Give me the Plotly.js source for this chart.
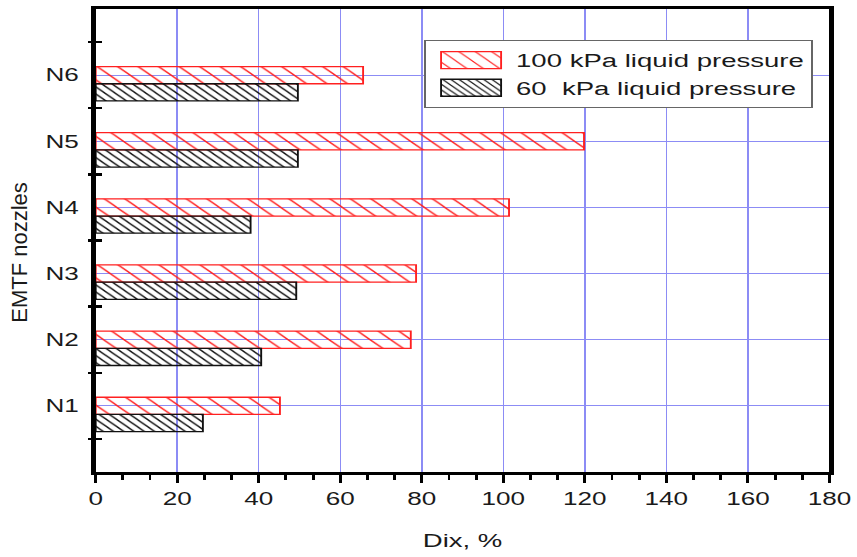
<!DOCTYPE html>
<html>
<head>
<meta charset="utf-8">
<script src="https://cdn.plot.ly/plotly-3.0.1.min.js"></script>
<style>
html,body{margin:0;padding:0;background:#fff;overflow:hidden;}
#wrap{width:857px;height:557px;overflow:hidden;}
#chart{width:591px;height:557px;transform:scaleX(1.45);transform-origin:0 0;}
</style>
</head>
<body>
<div id="wrap"><div id="chart"></div></div>
<script>
const categories = ["N1", "N2", "N3", "N4", "N5", "N6"];
const positions = [1, 2, 3, 4, 5, 6];
const dix100kPa = [45.2, 77.3, 78.6, 101.4, 119.8, 65.6];
const dix60kPa = [26.3, 40.6, 49.2, 38.0, 49.6, 49.6];
const seriesNames = ["100 kPa liquid pressure", "60  kPa liquid pressure"];
const xTicks = [0, 20, 40, 60, 80, 100, 120, 140, 160, 180];
const yBoundaryTicks = [0.5, 1.5, 2.5, 3.5, 4.5, 5.5, 6.5];

const STRETCH = 1.45;
const font = "Liberation Sans, Arial, sans-serif";
const gridBlue = "rgb(140,140,245)";
const txt = "#1a1a1a";

const traces = [
  {
    type: "bar", orientation: "h", name: seriesNames[0],
    x: dix100kPa, y: positions, width: 0.26, offset: -0.13,
    marker: {color: "rgba(0,0,0,0)", line: {color: "#ff2020", width: 1.3},
      pattern: {shape: "\\", fgcolor: "#ff2020", bgcolor: "rgba(0,0,0,0)", size: 10, solidity: 0.12}},
    hoverinfo: "x+name"
  },
  {
    type: "bar", orientation: "h", name: seriesNames[1],
    x: dix60kPa, y: positions, width: 0.26, offset: -0.39,
    marker: {color: "rgba(0,0,0,0)", line: {color: "#111", width: 1.3},
      pattern: {shape: "\\", fgcolor: "#111", bgcolor: "rgba(0,0,0,0)", size: 5, solidity: 0.25}},
    hoverinfo: "x+name"
  },
  {type: "scatter", x: [0], y: [0], yaxis: "y2", mode: "none", showlegend: false, hoverinfo: "skip"},
  {type: "scatter", x: [0], y: [0], yaxis: "y3", mode: "none", showlegend: false, hoverinfo: "skip"}
];

const layout = {
  width: 591, height: 557,
  margin: {l: 66, r: 19, t: 9, b: 85},
  paper_bgcolor: "#fff", plot_bgcolor: "#fff",
  font: {family: font, size: 18, color: txt},
  barmode: "overlay",
  showlegend: true,
  legend: {
    x: 0.448, y: 0.933, xanchor: "left", yanchor: "top",
    bgcolor: "#fff", bordercolor: "#666", borderwidth: 1.2,
    font: {family: font, size: 19, color: txt},
    traceorder: "normal", tracegroupgap: 0, itemwidth: 52
  },
  xaxis: {
    range: [0, 180], tickvals: xTicks, ticks: "outside", ticklen: 8, tickwidth: 2, tickcolor: "#000",
    showline: true, linewidth: 3, linecolor: "#000", mirror: true,
    showgrid: true, gridcolor: gridBlue, gridwidth: 1, zeroline: false,
    minor: {dtick: 20 / 3, tick0: 0, ticks: "outside", ticklen: 5, tickwidth: 2, tickcolor: "#000", showgrid: false},
    tickfont: {family: font, size: 18, color: txt},
    title: {text: "Dix, %", font: {family: font, size: 19, color: txt}, standoff: 27}
  },
  yaxis: {
    range: [0, 7], tickvals: positions, ticktext: categories, ticks: "",
    showline: true, linewidth: 3, linecolor: "#000", mirror: true,
    showgrid: true, gridcolor: gridBlue, gridwidth: 1, zeroline: false,
    tickfont: {family: font, size: 18, color: txt},
    ticklabelstandoff: 5,
    title: {text: "EMTF nozzles", font: {family: font, size: 22, color: txt}, standoff: 4}
  },
  yaxis2: {
    overlaying: "y", side: "left", range: [0, 7], tickvals: yBoundaryTicks,
    ticks: "outside", ticklen: 4, tickwidth: 2.5, tickcolor: "#000",
    showticklabels: false, showgrid: false, zeroline: false, showline: false
  },
  yaxis3: {
    overlaying: "y", side: "left", range: [0, 7], tickvals: yBoundaryTicks,
    ticks: "inside", ticklen: 4, tickwidth: 2.5, tickcolor: "#000",
    showticklabels: false, showgrid: false, zeroline: false, showline: false
  }
};

Plotly.newPlot("chart", traces, layout, {displayModeBar: false, staticPlot: true}).then(function (gd) {
  // Undo the horizontal stretch for the rotated y-axis title so its glyphs keep normal proportions
  const yt = gd.querySelector("text.ytitle");
  if (yt) {
    const x = parseFloat(yt.getAttribute("x"));
    const tr = yt.getAttribute("transform") || "";
    yt.setAttribute("transform", "translate(-2.5,12) translate(" + x + ",0) scale(" + (1 / STRETCH) + ",1) translate(" + (-x) + ",0) " + tr);
  }
  // Wider legend swatches, as in the reference
  gd.querySelectorAll(".legend .legendpoints path").forEach(function (p) {
    p.setAttribute("d", "M20.7,8.5H-20.7V-8.5H20.7Z");
  });
});
</script>
</body>
</html>
